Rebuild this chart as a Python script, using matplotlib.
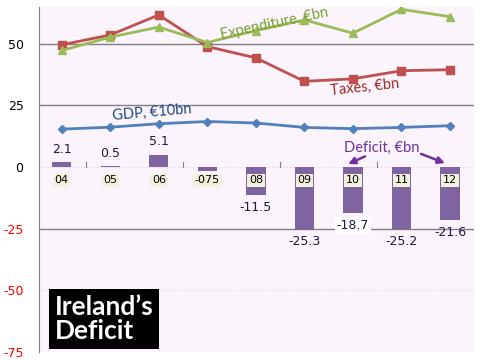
import matplotlib
matplotlib.use("Agg")
from matplotlib import pyplot as plt

years = ["04", "05", "06", "-075", "08", "09", "10", "11", "12"]
taxes = [49.6, 53.6, 61.7, 48.9, 44.3, 34.8, 35.8, 39.1, 39.5]
expenditure = [47.3, 52.7, 56.8, 50.5, 55.4, 59.7, 54.3, 64.0, 61.0]
gdp = [15.4, 16.2, 17.6, 18.5, 17.9, 16.1, 15.6, 16.1, 16.8]
deficit = [2.1, 0.5, 5.1, -1.6, -11.5, -25.3, -18.7, -25.2, -21.6]
deficit_labels = ["2.1", "0.5", "5.1", "", "-11.5", "-25.3", "-18.7", "-25.2", "-21.6"]
yticks = [50, 25, 0, -25, -50, -75]

fig = plt.figure(figsize=(4.8, 3.6), dpi=100)
ax = fig.add_axes([0.081, 0.022, 0.907, 0.959])
ax.set_facecolor("#fcf4fc")

x = list(range(len(years)))

# grid
for v in [50, 25, -25]:
    ax.axhline(v, color="#7f7f7f", lw=1, zorder=0)
for v in [0, -50]:
    ax.axhline(v, color="#e0d8c8", lw=0.8, ls=":", zorder=0)

# deficit bars
ax.bar(x, deficit, width=0.4, color="#8064a2", zorder=2)
for i, (v, lab) in enumerate(zip(deficit, deficit_labels)):
    if not lab:
        continue
    if v >= 0:
        ax.text(i, v + 2.5, lab, ha="center", va="bottom", fontsize=9, color="#1a1a3a", zorder=4)
    else:
        bb = dict(boxstyle="square,pad=0.15", fc="white", ec="none") if years[i] == "10" else None
        ax.text(i, v - 2.2, lab, ha="center", va="top", fontsize=9, color="#1a1a3a", zorder=4, bbox=bb)

# category labels near zero
for i, lab in enumerate(years):
    ax.text(i, -5.3, lab, ha="center", va="center", fontsize=8, color="black", zorder=5,
            bbox=dict(boxstyle="square,pad=0.15", fc="#f2f2dc", ec="none"))

# small ticks on zero line
for t in [0.5, 2.5, 4.5, 6.5]:
    ax.plot([t, t], [0, 2], color="#808080", lw=0.8, zorder=1)

# lines
ax.plot(x, taxes, color="#c0504d", lw=2, marker="s", ms=6, zorder=3)
ax.plot(x, expenditure, color="#9bbb59", lw=2, marker="^", ms=6, zorder=3)
ax.plot(x, gdp, color="#4f81bd", lw=2, marker="D", ms=4, zorder=3)

# line labels
ax.text(4.39, 58.0, "Expenditure, €bn", color="#77a032", fontsize=10.5, family="Lato",
        rotation=12, ha="center", va="center")
ax.text(6.25, 32.5, "Taxes, €bn", color="#a02b2b", fontsize=10.5, family="Lato",
        rotation=6, ha="center", va="center")
ax.text(1.86, 22.3, "GDP, €10bn", color="#1f497d", fontsize=10.5, family="Lato",
        rotation=5, ha="center", va="center")
ax.text(6.6, 7.9, "Deficit, €bn", color="#7030a0", fontsize=10.5, family="Lato",
        ha="center", va="center")
ax.annotate("", xy=(5.85, 0.8), xytext=(6.3, 4.8),
            arrowprops=dict(arrowstyle="-|>", color="#7030a0", lw=1.8, mutation_scale=10))
ax.annotate("", xy=(7.95, 1.2), xytext=(7.35, 5.8),
            arrowprops=dict(arrowstyle="-|>", color="#7030a0", lw=1.8, mutation_scale=10))

# title box
ax.text(-0.14, -61.5, "Ireland’s\nDeficit", color="white", fontsize=19, fontweight="bold",
        family="Lato", ha="left", va="center", linespacing=1.0,
        bbox=dict(boxstyle="square,pad=0.22", fc="black", ec="none"))

ax.set_xlim(-0.47, 8.5)
ax.set_ylim(-75, 65)
ax.set_xticks([])
ax.set_yticks(yticks)
ax.set_yticklabels([str(v) for v in yticks], fontsize=9)
for lbl, v in zip(ax.get_yticklabels(), yticks):
    lbl.set_color("red" if v < 0 else "black")
ax.tick_params(axis="y", length=0, pad=11)
for s in ["top", "right", "bottom"]:
    ax.spines[s].set_visible(False)
ax.spines["left"].set_color("#8c7f8c")

fig.savefig("out.png", dpi=100)
